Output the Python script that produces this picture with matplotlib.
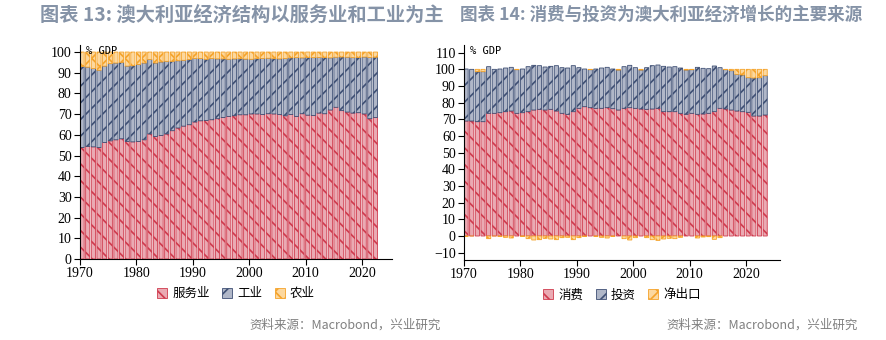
import matplotlib
matplotlib.use("Agg")
import matplotlib.pyplot as plt
import numpy as np

plt.rcParams['hatch.linewidth'] = 1.2

# ---- left chart: GDP by sector (% GDP), 1970-2022
years_l = list(range(1970, 2023))
services = [53.9, 54.4, 54.2, 53.9, 56.3, 57.1, 57.6, 58.1, 56.8, 56.6,
            56.8, 57.6, 60.4, 59.2, 59.7, 60.4, 62.0, 63.3, 64.2, 64.9,
            66.2, 66.8, 66.9, 67.3, 67.8, 68.4, 68.9, 69.2, 69.7, 69.7,
            70.1, 70.1, 69.8, 70.2, 70.1, 69.8, 69.2, 69.8, 68.9, 70.2,
            69.5, 69.3, 70.5, 70.2, 72.0, 73.3, 71.7, 71.0, 70.5, 70.7,
            70.1, 67.8, 68.4]
industry = [39.1, 38.3, 37.8, 37.3, 36.9, 37.3, 37.1, 36.9, 36.4, 36.8,
            37.2, 37.1, 36.0, 35.5, 35.5, 35.1, 33.5, 32.5, 31.8, 31.5,
            30.7, 30.1, 29.6, 29.6, 28.9, 28.3, 27.6, 27.5, 27.1, 26.9,
            26.4, 26.7, 27.1, 26.8, 26.7, 26.9, 27.7, 27.4, 28.4, 27.0,
            27.9, 28.0, 26.9, 27.1, 25.2, 24.2, 25.9, 26.5, 26.8, 26.7,
            27.5, 29.6, 29.1]
agriculture = [7.0, 7.3, 8.0, 8.8, 6.8, 5.6, 5.3, 5.0, 6.8, 6.6,
               6.0, 5.3, 3.6, 5.3, 4.8, 4.5, 4.5, 4.2, 4.0, 3.6,
               3.1, 3.1, 3.5, 3.1, 3.3, 3.3, 3.5, 3.3, 3.2, 3.4,
               3.5, 3.2, 3.1, 3.0, 3.2, 3.3, 3.1, 2.8, 2.7, 2.8,
               2.6, 2.7, 2.6, 2.7, 2.8, 2.5, 2.4, 2.5, 2.7, 2.6,
               2.4, 2.6, 2.5]

# ---- right chart: GDP by expenditure (% GDP), 1970-2023
years_r = list(range(1970, 2024))
consumption = [69.0, 69.0, 68.6, 68.6, 73.6, 73.6, 74.0, 74.6, 75.0, 73.6,
               74.0, 74.6, 75.6, 76.0, 75.6, 76.0, 75.0, 73.6, 73.0, 74.6,
               76.6, 77.6, 77.0, 76.6, 76.6, 77.0, 76.4, 75.6, 76.6, 77.0,
               76.6, 76.2, 76.0, 76.2, 76.6, 74.6, 74.6, 74.6, 73.6, 73.0,
               73.6, 73.0, 73.2, 73.6, 74.6, 76.6, 76.2, 75.6, 75.0, 74.6,
               74.2, 72.0, 72.0, 72.6]
investment = [31.2, 31.0, 30.0, 30.0, 28.0, 26.4, 26.2, 26.2, 26.2, 26.2,
              26.2, 27.0, 26.8, 26.2, 25.8, 25.8, 27.2, 27.4, 27.8, 27.6,
              24.4, 22.6, 22.8, 23.6, 24.2, 24.2, 23.8, 24.0, 25.0, 25.4,
              24.4, 23.4, 25.0, 26.0, 26.0, 27.2, 26.8, 27.0, 27.2, 26.6,
              26.2, 28.2, 27.4, 26.8, 27.4, 24.4, 23.6, 23.6, 22.0, 22.0,
              20.8, 22.8, 23.0, 23.6]
net_exports = [-0.2, 0.0, 1.4, 1.4, -1.6, 0.0, -0.2, -0.8, -1.2, 0.2,
               -0.2, -1.6, -2.4, -2.2, -1.4, -1.8, -2.2, -1.0, -0.8, -2.2,
               -1.0, -0.2, 0.2, -0.2, -0.8, -1.2, -0.2, 0.4, -1.6, -2.4,
               -1.0, 0.4, -1.0, -2.2, -2.6, -1.8, -1.4, -1.6, -0.8, 0.4,
               0.2, -1.2, -0.6, -0.4, -2.0, -1.0, 0.2, 0.8, 3.0, 3.4,
               5.0, 5.2, 5.0, 3.8]

red, red_f = "#cf3a4d", "#eaaab3"
navy, navy_f = "#3e4f74", "#b0b7c8"
orange, orange_f = "#f5a32a", "#fcd89f"

fig = plt.figure(figsize=(8.86, 3.4), dpi=100)
serif = "Liberation Serif"
cjk = ["Noto Sans CJK SC", "DejaVu Sans"]
bar_kw = dict(width=0.74, align="edge", linewidth=0.6, snap=False)


def style_axes(ax, ylim, yticks, xlim):
    ax.set_xlim(*xlim)
    ax.set_ylim(*ylim)
    ax.set_yticks(yticks)
    ax.set_xticks(range(1970, 2021, 10))
    for s in ["top", "right"]:
        ax.spines[s].set_visible(False)
    ax.tick_params(direction="out", length=4, width=0.8, labelsize=10, pad=2)
    for lab in ax.get_xticklabels() + ax.get_yticklabels():
        lab.set_fontfamily(serif)
    ax.text(0.018, 0.995, "% GDP", transform=ax.transAxes, va="top",
            ha="left", fontsize=7.5, family="DejaVu Sans Mono")


def add_legend(ax):
    ax.legend(loc="upper center", bbox_to_anchor=(0.5, -0.08), ncol=3,
              frameon=False, handlelength=0.8, handleheight=0.8,
              handletextpad=0.4, columnspacing=1.0,
              prop={"family": cjk, "size": 9})


# left chart
ax1 = fig.add_axes([80 / 886, 1 - 259 / 340, 312 / 886, 214 / 340])
x = np.array(years_l)
ax1.bar(x, services, facecolor=red_f, edgecolor=red, hatch="\\\\",
        label="服务业", **bar_kw)
ax1.bar(x, industry, bottom=services, facecolor=navy_f, edgecolor=navy,
        hatch="//", label="工业", **bar_kw)
ax1.bar(x, agriculture, bottom=np.array(services) + np.array(industry),
        facecolor=orange_f, edgecolor=orange, hatch="xx", label="农业",
        **bar_kw)
style_axes(ax1, (0, 103.4), range(0, 101, 10), (1970, 2025.3))
add_legend(ax1)

# right chart
ax2 = fig.add_axes([464 / 886, 1 - 260 / 340, 316 / 886, 215 / 340])
xr = np.array(years_r)
cons = np.array(consumption)
inv = np.array(investment)
nx = np.array(net_exports)
nx_bottom = np.where(nx > 0, cons + inv, 0)
ax2.bar(xr, cons, facecolor=red_f, edgecolor=red, hatch="\\\\",
        label="消费", **bar_kw)
ax2.bar(xr, inv, bottom=cons, facecolor=navy_f, edgecolor=navy,
        hatch="//", label="投资", **bar_kw)
ax2.bar(xr, nx, bottom=nx_bottom, facecolor=orange_f, edgecolor=orange,
        hatch="xx", label="净出口", **bar_kw)
style_axes(ax2, (-14.4, 114.6), range(-10, 111, 10), (1970, 2026))
add_legend(ax2)

# titles and source notes
title_color = "#8593a7"
titles = [(40, "图表 13: 澳大利亚经济结构以服务业和工业为主"),
          (460, "图表 14: 消费与投资为澳大利亚经济增长的主要来源")]
renderer = fig.canvas.get_renderer()
for x0, txt in titles:
    t = fig.text(x0 / 886, 1 - 15 / 340, txt, fontsize=13, fontweight="bold",
                 color=title_color, family=cjk, va="center", ha="left")
    w = t.get_window_extent(renderer).width
    t.set_fontsize(13 * 402 / w)
for xs in (441, 858):
    fig.text(xs / 886, 1 - 325 / 340, "资料来源：Macrobond，兴业研究",
             fontsize=9, color="#808080", family=cjk, ha="right", va="center")

fig.savefig("out.png", dpi=100)
